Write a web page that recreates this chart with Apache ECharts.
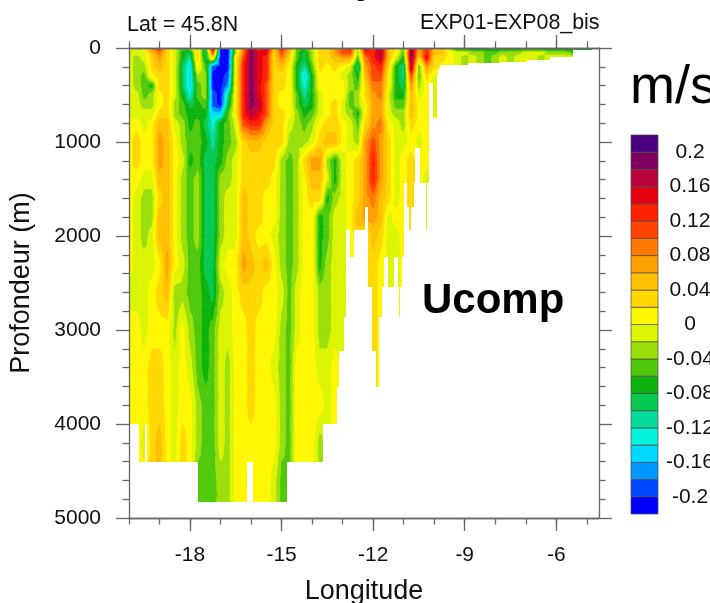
<!DOCTYPE html>
<html>
<head>
<meta charset="utf-8">
<script src="https://cdn.jsdelivr.net/npm/echarts@6/dist/echarts.min.js"></script>
<style>html,body{margin:0;padding:0;background:#fff;overflow:hidden}</style>
</head>
<body>
<div id="main" style="width:710px;height:603px;"></div>
<script type="text/javascript">
// contour levels (m/s) and the 22 fill colours, bottom of the colour bar first
var levels = [-0.2,-0.18,-0.16,-0.14,-0.12,-0.1,-0.08,-0.06,-0.04,-0.02,0,0.02,0.04,0.06,0.08,0.1,0.12,0.14,0.16,0.18,0.2];
var colors = ['#0000ff','#0046ff','#0096ff','#00d8ff','#00f5dc','#06dc9a','#07c850','#0ab30c','#4ec80a','#9adf08','#dcf500',
              '#fff700','#ffd800','#ffc000','#ffa000','#ff7800','#ff4400','#ff2000','#e60012','#b8003a','#800060','#4b0082'];
var barLabels = [-0.2,-0.16,-0.12,-0.08,-0.04,0,0.04,0.08,0.12,0.16,0.2];

// sampled section, cm/s. longitudes run from -20 every 0.25 degree, one row per depth
var depths = [0,50,100,200,300,400,500,600,700,800,1000,1200,1400,1600,1800,2000,2300,2600,3000,3400,3800,4200,4600,4900];
var lonStart = -20, lonStep = 0.25;
var u0    = [-1,-1,1,7,13,3,-1,-5,-3,3,-9,17,-21,-21,-3,9,17,11,17,3,13,7,-5,-5,-1,3,3,7,11,13,-3,17,11,17,5,1,-5,17,7,13,5,5,-3,-9,-9,-9,-9,-9,-9,-9,-9,-9,-9,-9,-9,-9,-9,-9,-9,-9,-9,-9];
var u50   = [-1,-1,-1,5,9,3,-1,-7,-9,3,-11,11,-21,-21,-3,9,19,15,15,3,11,5,-5,-9,-3,3,3,7,11,11,-3,13,13,17,5,1,-5,19,5,13,5,5,1,-1,-1,-3,-3,-5,-5,-3,-3,-3,-1,-1,-1,-3,-3,-3,-5,-5,-5,-5];
var u100  = [-1,-3,-1,3,7,3,-1,-7,-11,3,-9,3,-21,-21,1,11,19,15,13,3,9,3,-5,-9,-3,3,3,5,7,7,-5,9,13,17,5,-1,-7,19,3,15,3,3,1,-1,-3,-1,-3,-5,-3,-1,-3,-1,-1,-1,-3,-1,-1,-1,-1,-1,-3,-3];
var u200  = [-1,-3,-3,3,5,3,-1,-9,-15,1,-5,-19,-21,-21,1,13,19,15,13,3,5,1,-7,-11,-5,3,1,3,1,-1,-11,7,11,13,3,-7,-11,17,-5,7,3,1];
var u300  = [-1,-3,-5,1,3,3,-1,-9,-15,-3,-3,-21,-21,-19,1,13,19,15,13,3,3,1,-7,-15,-7,1,1,1,-1,-3,-7,5,11,11,1,-7,-11,11,-5,3,-1,-1];
var u400  = [-1,-3,-5,-7,3,3,-1,-9,-15,-5,-3,-21,-21,-17,1,13,19,15,11,3,3,1,-7,-13,-7,1,1,1,1,-3,-5,3,9,9,1,-7,-9,7,-3,1,-1,-1];
var u500  = [-1,-1,-5,-3,1,3,-1,-7,-13,-5,-3,-19,-21,-11,1,13,19,15,11,3,1,1,-5,-11,-7,-1,1,1,1,-5,-3,3,7,9,-1,-7,-7,5,-1,1,-1];
var u600  = [-1,-1,-3,-3,1,3,-3,-5,-9,-7,-5,-19,-21,-9,1,13,19,17,11,3,1,1,-5,-9,-7,-1,1,3,-1,-5,-3,1,7,7,-1,-5,-5,5,1,1,-1];
var u700  = [-1,-1,-1,-1,3,3,-3,-5,-7,-7,-7,-15,-15,-5,1,13,17,15,11,3,3,1,-3,-7,-5,-1,1,3,-1,-3,-7,1,7,7,-1,-3,-3,5,1,1];
var u800  = [1,1,-1,1,5,5,-1,-3,-7,-5,-9,-13,-7,-5,-1,11,13,13,7,3,3,-1,-3,-5,-3,1,3,3,1,-1,-5,3,7,9,1,-1,-3,3,1,1];
var u1000 = [1,3,1,1,7,5,1,-3,-5,-5,-7,-11,-7,-5,-3,3,5,5,3,3,3,-3,-3,-3,-1,3,5,5,1,-1,-3,7,11,7,3,-1,-1,1,-1];
var u1200 = [1,3,1,1,7,5,1,-1,-7,-5,-9,-9,-7,-3,-1,3,3,3,3,3,-3,-5,-3,3,7,7,-3,-7,-1,1,3,7,13,7,3,-1,1,3,1];
var u1400 = [1,1,-1,-1,5,5,1,-3,-5,-3,-9,-10,-3,-3,-1,3,3,3,3,1,-3,-5,-3,1,5,5,-1,-7,-1,1,3,7,13,7,3,-1,1,3,1,-1];
var u1600 = [1,-1,-3,-3,3,5,1,-3,-5,-3,-9,-10,-3,-1,-1,5,3,3,1,1,-3,-5,-3,1,3,3,-7,-3,-1,1,3,7,9,5,3,-1,1];
var u1800 = [1,-1,-3,-3,5,5,1,-3,-5,-3,-9,-10,-3,-1,-1,5,3,3,1,1,-3,-5,-3,1,1,-7,-5,-1,-1,1,5,7,7,5,-1,1];
var u2000 = [1,-1,-3,-1,5,5,1,-3,-5,-3,-9,-10,-3,-1,-1,5,3,1,1,-1,-3,-5,-3,1,1,-7,-5,-1,-1,1,3,1,5,3,-1,-1];
var u2300 = [1,-1,-1,-1,1,7,1,-1,-5,-5,-9,-9,-1,1,1,7,5,3,5,1,-3,-5,-3,1,1,-7,-3,-1,-1,1,1,3,3,1,-1];
var u2600 = [-1,-1,-1,1,3,5,-3,-3,-5,-5,-7,-9,-3,-1,1,3,3,3,1,1,-1,-5,-1,1,1,-3,-3,-1,-1,-1];
var u3000 = [1,1,-1,1,1,1,-3,1,-3,-5,-7,-5,-1,-1,1,1,3,1,1,1,-3,-5,-1,1,1,-3,-3,-1,-1];
var u3400 = [1,1,1,3,3,1,-1,1,-1,-5,-7,-5,-1,-3,1,1,3,1,1,-1,-3,-5,1,1,1,-1,-1,1];
var u3800 = [1,1,1,3,3,1,-1,1,1,-3,-5,-5,-1,-3,1,1,3,1,1,1,-3,-5,1,1,1,1,-1];
var u4200 = [1,1,-1,3,5,1,-1,3,1,-3,-5,-5,-1,-3,1,1,1,1,1,1,-3,-5,1,1,1,-3];
var u4600 = [1,1,1,3,5,1,-1,3,1,-5,-5,-5,-3,-3,1,1,1,1,1,-1,-5,-5,1,1,1,-3];
var u4900 = [1,1,1,3,5,1,-1,3,1,-5,-5,-5,-3,-3,1,1,1,1,1,-1,-5,-5,1,1,1,-3];
var rows = [u0,u50,u100,u200,u300,u400,u500,u600,u700,u800,u1000,u1200,u1400,u1600,u1800,u2000,u2300,u2600,u3000,u3400,u3800,u4200,u4600,u4900];

// sea floor steps: bottomLon has one more entry than bottomDepth
var bottomLon = [-20,-19.67,-19.48,-19.41,-17.74,-16.13,-15.95,-14.82,-13.65,-13.18,-13.11,-12.95,-12.89,-12.75,-12.62,-12.26,-12.16,-12.03,-11.91,-11.80,-11.72,-11.66,-11.52,-11.33,-11.18,-11.14,-11.11,-11.05,-11.00,-10.89,-10.82,-10.75,-10.66,-10.62,-10.46,-10.26,-10.22,-10.16,-10.05,-9.92,-9.87,-9.80,-8.88,-7.84,-6.96,-6.20,-5.44,-4.83,-4.6];
var bottomDepth = [3995,4404,3995,4404,4835,4404,4835,4404,3995,3606,3223,2862,1936,2223,1936,1691,2543,3223,3606,2862,2543,2223,2543,2223,2543,2862,2543,2223,1436,1691,1936,1691,1436,1064,1436,1936,1436,372,745,287,223,181,156,146,128,93,21,0];

var xMajor = [-18,-15,-12,-9,-6];
var xMinor = [-20,-19,-18,-17,-16,-15,-14,-13,-12,-11,-10,-9,-8,-7,-6,-5];

// data items for the custom series
var cells = [];
function valueAt(r, c) {
    for (var i = r; i >= 0; i--) {
        if (c < rows[i].length) return rows[i][c] / 100;
    }
    return 0;
}
for (var r = 0; r < depths.length - 1; r++) {
    for (var c = 0; c < rows[0].length - 1; c++) {
        cells.push([lonStart + c * lonStep, depths[r], lonStart + (c + 1) * lonStep, depths[r + 1],
                    valueAt(r, c), valueAt(r, c + 1), valueAt(r + 1, c + 1), valueAt(r + 1, c)]);
    }
}
var floorRects = [];
for (var b = 0; b < bottomDepth.length; b++) {
    floorRects.push([bottomLon[b], bottomDepth[b], bottomLon[b + 1]]);
}
var barCells = [];
for (var n = 0; n < colors.length; n++) {
    barCells.push([n === 0 ? -0.22 : levels[n - 1], n === levels.length ? 0.22 : levels[n], n]);
}

// keep the part of a polygon on one side of a value, points are [lon, depth, value]
function clipValue(poly, limit, keepAbove) {
    var out = [];
    for (var i = 0; i < poly.length; i++) {
        var a = poly[i], b = poly[(i + 1) % poly.length];
        var aIn = keepAbove ? a[2] >= limit : a[2] <= limit;
        var bIn = keepAbove ? b[2] >= limit : b[2] <= limit;
        if (aIn) out.push(a);
        if (aIn !== bIn) {
            var t = (limit - a[2]) / (b[2] - a[2]);
            out.push([a[0] + (b[0] - a[0]) * t, a[1] + (b[1] - a[1]) * t, limit]);
        }
    }
    return out;
}

function renderField(params, api) {
    var x0 = api.value(0), y0 = api.value(1), x1 = api.value(2), y1 = api.value(3);
    var v00 = api.value(4), v10 = api.value(5), v11 = api.value(6), v01 = api.value(7);
    var mid = [(x0 + x1) / 2, (y0 + y1) / 2, (v00 + v10 + v11 + v01) / 4];
    var corners = [[x0, y0, v00], [x1, y0, v10], [x1, y1, v11], [x0, y1, v01]];
    var children = [];
    for (var i = 0; i < 4; i++) {
        var tri = [corners[i], corners[(i + 1) % 4], mid];
        for (var n = 0; n < colors.length; n++) {
            var poly = tri;
            if (n > 0) poly = clipValue(poly, levels[n - 1], true);
            if (poly.length && n < levels.length) poly = clipValue(poly, levels[n], false);
            if (poly.length < 3) continue;
            children.push({
                type: 'polygon',
                shape: {points: poly.map(function (p) { return api.coord([p[0], p[1]]); })},
                style: {fill: colors[n], stroke: colors[n], lineWidth: 0.6}
            });
        }
    }
    return {type: 'group', children: children};
}

function renderFloor(params, api) {
    var a = api.coord([api.value(0), api.value(1)]);
    var b = api.coord([api.value(2), 5000]);
    return {
        type: 'rect',
        shape: {x: Math.round(a[0]), y: Math.round(a[1]), width: Math.round(b[0]) - Math.round(a[0]), height: b[1] - Math.round(a[1])},
        style: {fill: '#fff'}
    };
}

function renderBar(params, api) {
    var a = api.coord([0, api.value(0)]);
    var b = api.coord([1, api.value(1)]);
    return {
        type: 'rect',
        shape: {x: a[0], y: b[1], width: b[0] - a[0], height: a[1] - b[1]},
        style: {fill: colors[api.value(2)], stroke: '#4a4a4a', lineWidth: 0.7}
    };
}

var fontName = '"Liberation Sans", Arial, sans-serif';
var axisColor = '#666';

function lonAxis(position, ticks, tickLength, withLabels) {
    return {
        type: 'value', gridIndex: 0, position: position, min: -20, max: -4.6, z: 5,
        splitLine: {show: false},
        axisLine: {onZero: false, lineStyle: {color: axisColor, width: 1.3}},
        axisTick: {show: true, customValues: ticks, length: tickLength, lineStyle: {color: axisColor, width: 1.3}},
        axisLabel: withLabels ? {customValues: xMajor, margin: 27, fontSize: 21, fontFamily: fontName, color: '#111'} : {show: false},
        name: withLabels ? 'Longitude' : '',
        nameLocation: 'middle', nameGap: 60,
        nameTextStyle: {fontSize: 27, fontFamily: fontName, color: '#111'}
    };
}
function depthAxis(position, withLabels) {
    return {
        type: 'value', gridIndex: 0, position: position, inverse: true, min: 0, max: 5000, interval: 1000, z: 5,
        splitLine: {show: false},
        axisLine: {onZero: false, lineStyle: {color: axisColor, width: 1.3}},
        axisTick: {show: true, length: 13, lineStyle: {color: axisColor, width: 1.3}},
        minorTick: {show: true, splitNumber: 5, length: 6.5, lineStyle: {color: axisColor, width: 1.3}},
        minorSplitLine: {show: false},
        axisLabel: withLabels ? {margin: 28, fontSize: 21, fontFamily: fontName, color: '#111', padding: [3, 0, 0, 0], formatter: function (v) { return String(v); }} : {show: false},
        name: withLabels ? 'Profondeur (m)' : '',
        nameLocation: 'middle', nameGap: 94,
        nameTextStyle: {fontSize: 27, fontFamily: fontName, color: '#111'}
    };
}

var option = {
    animation: false,
    backgroundColor: '#fff',
    grid: [
        {left: 129, top: 48, width: 470, height: 470, outerBoundsMode: 'none'},
        {left: 631, top: 135, width: 27, height: 379, outerBoundsMode: 'none'}
    ],
    xAxis: [
        lonAxis('bottom', xMajor, 13, true),
        lonAxis('bottom', xMinor, 6.5, false),
        lonAxis('top', xMajor, 13, false),
        lonAxis('top', xMinor, 6.5, false),
        {type: 'value', gridIndex: 1, min: 0, max: 1, show: false}
    ],
    yAxis: [
        depthAxis('left', true),
        depthAxis('right', false),
        {
            type: 'value', gridIndex: 1, position: 'right', min: -0.22, max: 0.22,
            splitLine: {show: false},
            axisLine: {show: false},
            axisTick: {show: false},
            axisLabel: {customValues: barLabels, align: 'center', margin: 32, fontSize: 21, fontFamily: fontName, color: '#111', padding: [4, 0, 0, 0], formatter: function (v) { return String(v); }}
        }
    ],
    graphic: [
        {type: 'text', z: 10, left: 127, top: 15, style: {text: 'Lat = 45.8N', font: '21.4px ' + fontName, fill: '#111'}},
        {type: 'text', z: 10, left: 420, top: 13, style: {text: 'EXP01-EXP08_bis', font: '21.4px ' + fontName, fill: '#111'}},
        {type: 'text', z: 10, left: 422, top: 280, style: {text: 'Ucomp', font: 'bold 42px ' + fontName, fill: '#000'}},
        {type: 'text', z: 10, left: 630, top: 61, style: {text: 'm/s', font: '54px ' + fontName, fill: '#000'}},
        {type: 'text', z: 10, left: 354, top: -24, style: {text: 'g', font: '26px ' + fontName, fill: '#000'}}
    ],
    series: [
        {
            name: 'Ucomp', type: 'custom', xAxisIndex: 0, yAxisIndex: 0, z: 2,
            progressive: 0, clip: true,
            renderItem: renderField,
            encode: {x: [0, 2], y: [1, 3]},
            data: cells
        },
        {
            name: 'floor', type: 'custom', xAxisIndex: 0, yAxisIndex: 0, z: 3,
            progressive: 0, clip: true,
            renderItem: renderFloor,
            encode: {x: [0, 2], y: 1},
            data: floorRects
        },
        {
            name: 'colorbar', type: 'custom', xAxisIndex: 4, yAxisIndex: 2, z: 2,
            progressive: 0,
            renderItem: renderBar,
            encode: {y: [0, 1]},
            data: barCells
        }
    ]
};

var myChart = echarts.init(document.getElementById('main'), null, {renderer: 'canvas'});
myChart.setOption(option);
</script>
</body>
</html>
